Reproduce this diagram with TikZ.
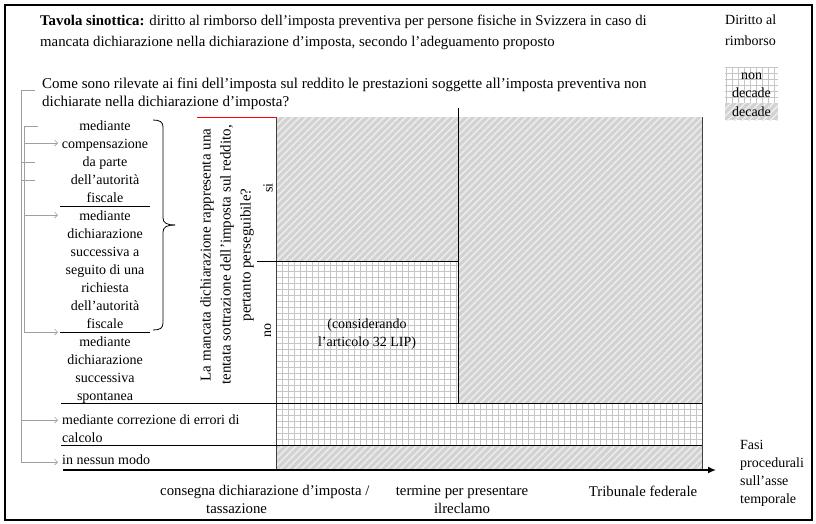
\documentclass[tikz,border=0pt]{standalone}
\usepackage{fontspec}
\setmainfont{Liberation Serif}
\usetikzlibrary{patterns.meta,arrows.meta}
\begin{document}
\begin{tikzpicture}[x=1pt,y=-1pt,
  every node/.style={font=\fontsize{14}{18}\selectfont, inner sep=0pt, text=black},
  dec/.style={preaction={fill=gray!35}, pattern={Lines[angle=45,distance=5pt,line width=1.6pt]}, pattern color=gray!15},
  nondec/.style={preaction={fill=white}, pattern={Hatch[angle=0,distance=6pt,line width=0.4pt]}, pattern color=gray!45},
  conn/.style={draw=gray!75, line width=0.6pt},
  tip/.style={-{Straight Barb[length=3pt,width=6pt]}},
  sep/.style={draw=black, line width=0.8pt},
  axlab/.style={font=\fontsize{14.8}{18}\selectfont},
]
\useasboundingbox (0,0) rectangle (816,523);
\draw[line width=2pt] (5,5) rectangle (812,520);

% header
\node[anchor=north west, align=left, font=\fontsize{14.8}{18}\selectfont] (title) at (40,15)
  {\textbf{Tavola sinottica:} diritto al rimborso dell’imposta preventiva per persone fisiche in Svizzera in caso di\\[3pt]
   mancata dichiarazione nella dichiarazione d’imposta, secondo l’adeguamento proposto};
\node[anchor=north west, align=left] (dirit) at (725,15) {Diritto al\\[3pt]rimborso};
\node[nondec, minimum width=53pt, minimum height=36pt, align=center] (leg1) at (751.5,85) {non\\decade};
\node[dec, minimum width=53pt, minimum height=17pt] (leg2) at (751.5,111.5) {decade};

\node[anchor=north west, align=left, font=\fontsize{15}{18}\selectfont] (quest) at (42,78)
  {Come sono rilevate ai fini dell’imposta sul reddito le prestazioni soggette all’imposta preventiva non\\
   dichiarate nella dichiarazione d’imposta?};

% chart areas
\path[dec] (276,117) rectangle (702,470);
\path[nondec] (276,261) rectangle (458,403);
\path[nondec] (276,403) rectangle (702,445);
\draw[gray!50!black, line width=0.8pt] (276,117) -- (276,470);
\draw[gray!50!black, line width=0.8pt] (702,117) -- (702,470);
\draw[red, line width=0.8pt] (197,117) -- (276,117);
\draw[sep] (458,108) -- (458,403);
\draw[sep] (257,261) -- (458,261);
\draw[sep] (61,403) -- (702,403);
\draw[sep] (61,445) -- (702,445);
\draw[sep] (60,206) -- (150,206);
\draw[sep] (60,332) -- (150,332);
\coordinate (ax0) at (63,470);
\coordinate (ax1) at (716,470);
\draw[line width=2.2pt, -{Latex[length=8pt,width=7pt]}] (ax0) -- (ax1);

% left column texts
\node[align=center] (t1) at (105,162) {mediante\\compensazione\\da parte\\dell’autorità\\fiscale};
\node[align=center] (t2) at (105,270) {mediante\\dichiarazione\\successiva a\\seguito di una\\richiesta\\dell’autorità\\fiscale};
\node[align=center] (t3) at (105,370) {mediante\\dichiarazione\\successiva\\spontanea};
\node[anchor=west, align=left] (t4) at (62,428.5) {mediante correzione di errori di\\calcolo};
\node[anchor=west] (t5) at (62,460) {in nessun modo};

% brace
\draw[line width=0.8pt] (153,120) .. controls (160,120) and (163,122) .. (163,127) -- (163,218)
  .. controls (163,223) and (167,225) .. (175,225);
\draw[line width=0.8pt] (175,225) .. controls (167,225) and (163,227) .. (163,232) -- (163,323)
  .. controls (163,328) and (160,330) .. (153,330);

% rotated question
\node[rotate=90, align=center, font=\fontsize{15}{20}\selectfont] (rq) at (227,255)
  {La mancata dichiarazione rappresenta una\\tentata sottrazione dell’imposta sul reddito,\\pertanto perseguibile?};
\node[rotate=90] (si) at (268,188) {si};
\node[rotate=90] (no) at (268,330) {no};
\node[align=center] (cons) at (367,334) {(considerando\\l’articolo 32 LIP)};

% left connectors
\coordinate (c0) at (35,90);
\coordinate (c0a) at (21,90);
\coordinate (c0b) at (21,462);
\draw[conn] (c0) -- (c0a) -- (c0b);
\draw[conn,tip] (c0b) -- (58,462);
\draw[conn,tip] (21,420) -- (58,420);
\coordinate (c1) at (38,126);
\coordinate (c1a) at (24,126);
\coordinate (c1b) at (24,332);
\draw[conn] (c1) -- (c1a) -- (c1b);
\draw[conn,tip] (c1b) -- (58,332);
\draw[conn,tip] (24,143) -- (58,143);
\draw[conn,tip] (24,215) -- (58,215);
\draw[conn] (21,162) -- (35,162);
\draw[conn] (21,180) -- (35,180);

% axis labels
\node[axlab, anchor=north west, align=left] (lab1) at (160,485.5) {consegna dichiarazione d’imposta /\\\hspace*{46pt}tassazione};
\node[axlab, align=center, anchor=north] (lab2) at (462,485.5) {termine per presentare\\ilreclamo};
\node[axlab, anchor=north] (lab3) at (643,485.5) {Tribunale federale};
\node[anchor=north west, align=left] (lab4) at (740,440.5) {Fasi\\procedurali\\sull’asse\\temporale};
\end{tikzpicture}
\end{document}
